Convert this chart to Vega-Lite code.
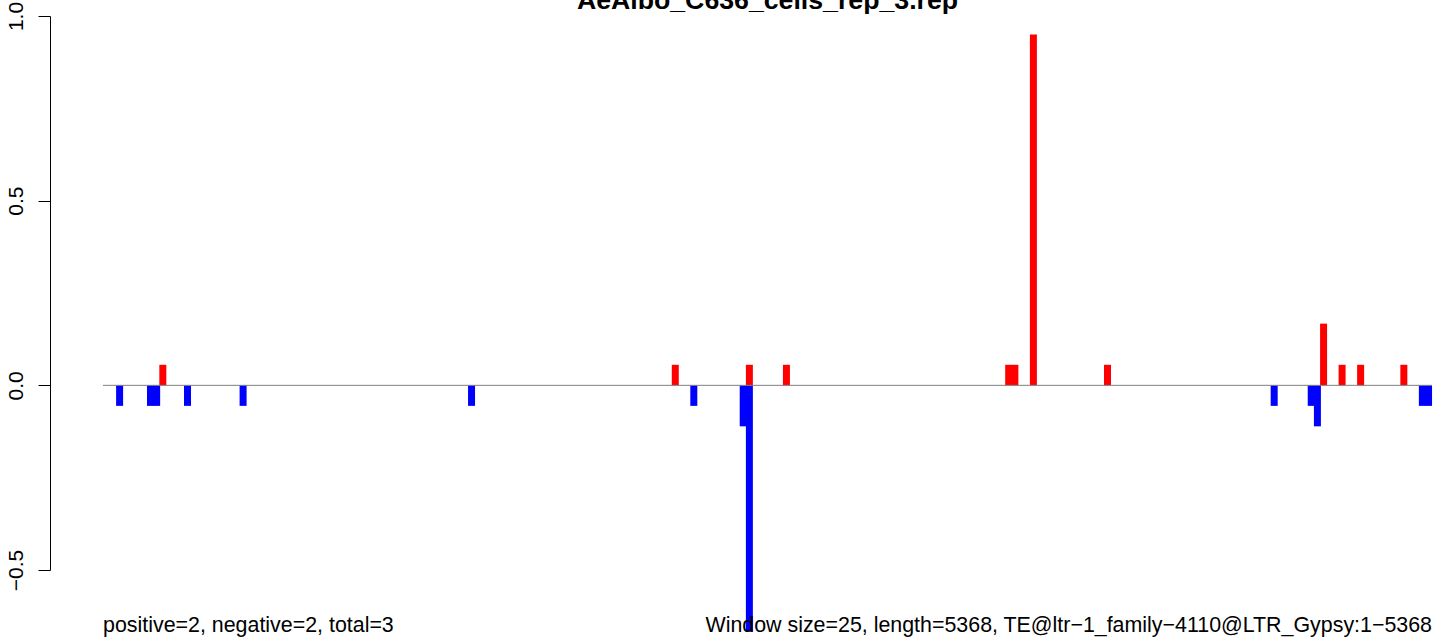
{
  "$schema": "https://vega.github.io/schema/vega-lite/v6.json",
  "autosize": {"type": "none"},
  "padding": {"left": 103, "top": 16, "right": 9, "bottom": 67},
  "width": 1329,
  "height": 554,
  "background": "white",
  "config": {
    "view": {"stroke": null},
    "font": "Liberation Sans"
  },
  "title": {
    "text": "AeAlbo_C636_cells_rep_3.rep",
    "font": "Liberation Sans",
    "fontSize": 26.7,
    "fontWeight": "bold",
    "color": "black",
    "anchor": "middle",
    "frame": "group",
    "baseline": "alphabetic",
    "offset": 0,
    "dy": 34
  },
  "datasets": {
    "bars": [
      {"k": 3, "v": -0.0556},
      {"k": 8, "v": -0.0556},
      {"k": 9, "v": -0.0556},
      {"k": 10, "v": 0.0556},
      {"k": 14, "v": -0.0556},
      {"k": 23, "v": -0.0556},
      {"k": 60, "v": -0.0556},
      {"k": 93, "v": 0.0556},
      {"k": 96, "v": -0.0556},
      {"k": 104, "v": -0.111},
      {"k": 105, "v": -0.667},
      {"k": 105, "v": 0.0556},
      {"k": 111, "v": 0.0556},
      {"k": 147, "v": 0.0556},
      {"k": 148, "v": 0.0556},
      {"k": 151, "v": 0.95},
      {"k": 163, "v": 0.0556},
      {"k": 190, "v": -0.0556},
      {"k": 196, "v": -0.0556},
      {"k": 197, "v": -0.111},
      {"k": 198, "v": 0.167},
      {"k": 201, "v": 0.0556},
      {"k": 204, "v": 0.0556},
      {"k": 211, "v": 0.0556},
      {"k": 214, "v": -0.0556},
      {"k": 215, "v": -0.0556}
    ],
    "left": [{"label": "positive=2, negative=2, total=3"}],
    "right": [{"label": "Window size=25, length=5368, TE@ltr\u22121_family\u22124110@LTR_Gypsy:1\u22125368"}]
  },
  "layer": [
    {
      "data": {"name": "bars"},
      "mark": {"type": "rule", "strokeWidth": 7, "strokeCap": "butt"},
      "encoding": {
        "x": {"field": "k", "type": "quantitative", "scale": {"domain": [0.31, 215.56], "nice": false, "zero": false}, "axis": null},
        "y": {"field": "v", "type": "quantitative", "scale": {"domain": [-0.5, 1.0], "nice": false, "zero": false},
          "axis": {
            "title": null,
            "values": [-0.5, 0, 0.5, 1],
            "format": ".1f",
            "offset": 53,
            "grid": false,
            "domainColor": "black",
            "domainWidth": 1,
            "tickColor": "black",
            "tickWidth": 1,
            "tickSize": 12,
            "labelAngle": -90,
            "labelAlign": "center",
            "labelBaseline": "alphabetic",
            "labelPadding": 16,
            "labelFont": "Liberation Sans",
            "labelFontSize": 21,
            "labelColor": "black",
            "labelFlush": false,
            "labelOverlap": false
          }
        },
        "y2": {"datum": 0},
        "color": {"field": "v", "type": "quantitative", "scale": {"type": "threshold", "domain": [0], "range": ["#0000FF", "#FF0000"]}, "legend": null}
      }
    },
    {
      "data": {"values": [{}]},
      "mark": {"type": "rule", "color": "#7F7F7F", "strokeWidth": 1},
      "encoding": {"y": {"datum": 0}}
    },
    {
      "data": {"name": "left"},
      "mark": {"type": "text", "align": "left", "baseline": "alphabetic", "font": "Liberation Sans", "fontSize": 21.4, "color": "black"},
      "encoding": {
        "x": {"datum": 0.31},
        "y": {"datum": -0.668},
        "text": {"field": "label"}
      }
    },
    {
      "data": {"name": "right"},
      "mark": {"type": "text", "align": "right", "baseline": "alphabetic", "font": "Liberation Sans", "fontSize": 21.4, "color": "black"},
      "encoding": {
        "x": {"datum": 215.56},
        "y": {"datum": -0.668},
        "text": {"field": "label"}
      }
    }
  ]
}
